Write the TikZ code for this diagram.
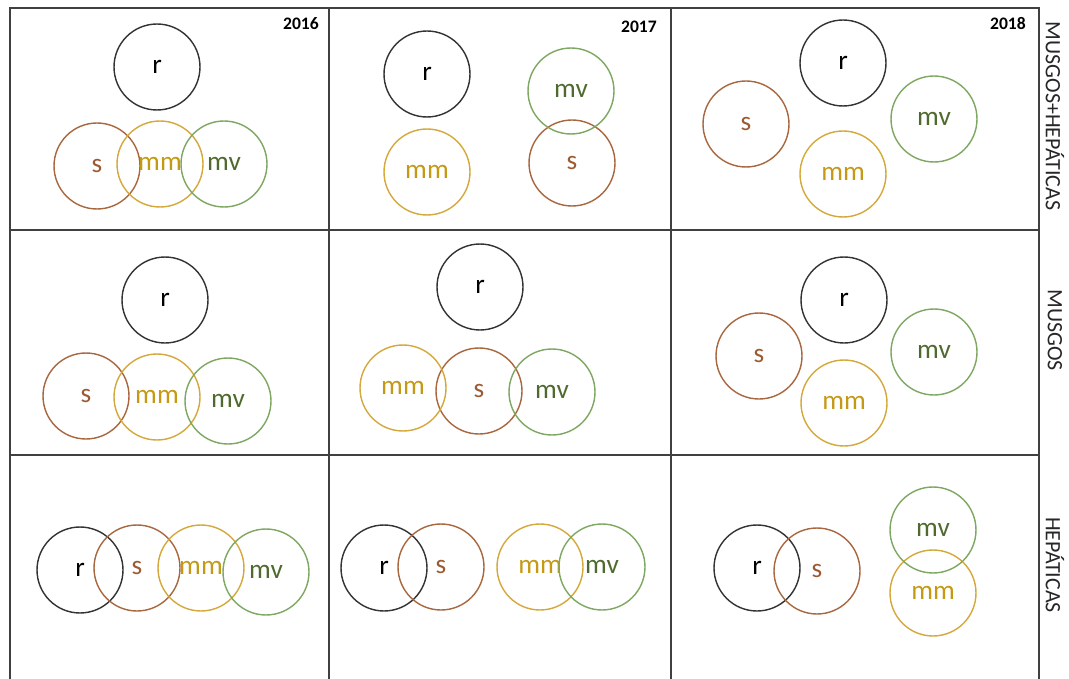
\documentclass[tikz,border=0pt]{standalone}
\usepackage{fontspec}
\setmainfont{Carlito}
\definecolor{gridline}{HTML}{404040}
\definecolor{rborder}{HTML}{333333}
\definecolor{sborder}{HTML}{A8673F}
\definecolor{stext}{HTML}{9C5A33}
\definecolor{mmborder}{HTML}{D4A83A}
\definecolor{mmtext}{HTML}{C49A14}
\definecolor{mvborder}{HTML}{7EA762}
\definecolor{mvtext}{HTML}{4F6A2E}
\def\setsize{1.72cm}
\tikzset{
  setcircle/.style={circle, line width=0.8pt, minimum size=\setsize, inner sep=0pt,
                    font=\fontsize{15.5}{17}\selectfont},
  rset/.style={setcircle, draw=rborder, text=black},
  sset/.style={setcircle, draw=sborder, text=stext},
  mmset/.style={setcircle, draw=mmborder, text=mmtext},
  mvset/.style={setcircle, draw=mvborder, text=mvtext},
  yearlabel/.style={font=\bfseries\fontsize{10}{12}\selectfont, anchor=east},
  grouplabel/.style={font=\fontsize{12.5}{14}\selectfont, rotate=-90, text=black!85},
  cellline/.style={draw=gridline, line width=0.7pt},
}

\begin{document}
\begin{tikzpicture}[x=0.02cm, y=-0.02cm]
\useasboundingbox (0,0) rectangle (1069,679);

% Table frame
\draw[cellline] (10,679) -- (10,8) -- (1039,8) -- (1039,679);
\foreach \x in {329,671} \draw[cellline] (\x,8) -- (\x,679);
\foreach \y in {230,455} \draw[cellline] (10,\y) -- (1039,\y);

% Years
\node[yearlabel] (y16) at (325,24) {2016};
\node[yearlabel] (y17) at (663,27) {2017};
\node[yearlabel] (y18) at (1032,24) {2018};

% Groups
\node[grouplabel] (gmh) at (1055,116) {MUSGOS+HEPÁTICAS};
\node[grouplabel] (gm)  at (1055,330) {MUSGOS};
\node[grouplabel] (gh)  at (1055,565) {HEPÁTICAS};

% Sets, one loop per kind
\foreach \n/\p in {16mh/{157,67}, 17mh/{427,74}, 18mh/{843,63},
                   16m/{165,300}, 17m/{480,287}, 18m/{844,300},
                   16h/{80,570}, 17h/{384,568}, 18h/{757,568}} {
  \node[rset] (r\n) at (\p) {r};
}
\foreach \n/\p in {16mh/{97,166}, 17mh/{572,163}, 18mh/{746,124},
                   16m/{86,396}, 17m/{479,391}, 18m/{759,356},
                   16h/{137,568}, 17h/{441,567}, 18h/{817,571}} {
  \node[sset] (s\n) at (\p) {s};
}
\foreach \n/\p in {16mh/{160,164}, 17mh/{427,172}, 18mh/{843,174},
                   16m/{157,397}, 17m/{403,388}, 18m/{844,403},
                   16h/{201,568}, 17h/{540,567}, 18h/{933,593}} {
  \node[mmset] (mm\n) at (\p) {mm};
}
\foreach \n/\p in {16mh/{224,164}, 17mh/{571,91}, 18mh/{934,119},
                   16m/{228,401}, 17m/{552,392}, 18m/{934,352},
                   16h/{266,572}, 17h/{602,567}, 18h/{933,530}} {
  \node[mvset] (mv\n) at (\p) {mv};
}

\end{tikzpicture}
\end{document}
